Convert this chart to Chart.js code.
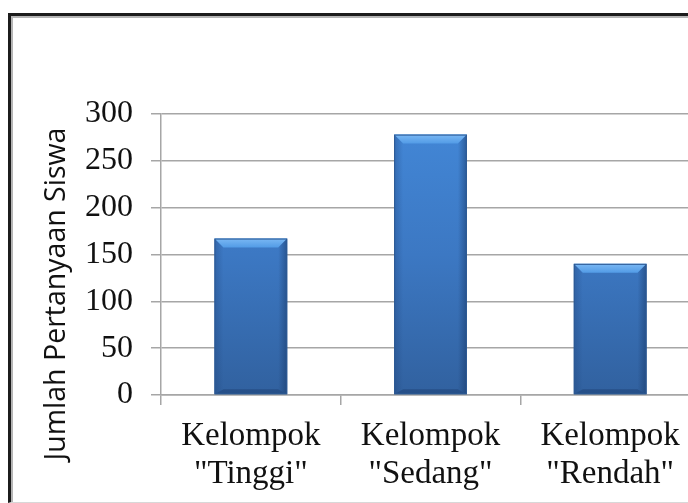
<!DOCTYPE html>
<html>
<head>
<meta charset="utf-8">
<script src="https://cdn.jsdelivr.net/npm/chart.js@4"></script>
<style>
  html, body { margin: 0; padding: 0; background: #fff; overflow: hidden; }
  #wrap { position: relative; width: 688px; height: 503px; overflow: hidden; }
  #frame {
    position: absolute; left: 8px; top: 13px; width: 720px; height: 486px;
    border-left: 3px solid #1c1c1c; border-top: 3px solid #1c1c1c;
    border-bottom: 1px solid #d8d8d8;
    box-shadow: inset 2px 2px 0 #b5b5b5;
  }
  #chart { position: absolute; left: 0; top: 0; }
</style>
</head>
<body>
<div id="wrap">
  <div id="frame"></div>
  <canvas id="chart" width="702" height="503"></canvas>
</div>
<script>
var categories = [['Kelompok', '"Tinggi"'], ['Kelompok', '"Sedang"'], ['Kelompok', '"Rendah"']];
var values = [167, 278, 140];
var yTicks = [0, 50, 100, 150, 200, 250, 300];
var yTitle = 'Jumlah Pertanyaan Siswa';

var gridColor = '#a6a6a6';

// vertical gradient for the bars
function barFill(context) {
    var chart = context.chart;
    var area = chart.chartArea;
    if (!area) return '#3d78c4';
    var g = chart.ctx.createLinearGradient(0, area.top, 0, area.bottom);
    g.addColorStop(0, '#4388d8');
    g.addColorStop(0.5, '#3c78c3');
    g.addColorStop(1, '#31619f');
    return g;
}

// soft bevel like the office chart
var bevelPlugin = {
    id: 'bevel',
    afterDatasetsDraw: function(chart) {
        var ctx = chart.ctx;
        var meta = chart.getDatasetMeta(0);
        meta.data.forEach(function(bar) {
            var p = bar.getProps(['x', 'y', 'base', 'width']);
            var l = p.x - p.width / 2, r = p.x + p.width / 2;
            var t = p.y, b = p.base, d = 9;
            ctx.save();
            // top bevel
            var tg = ctx.createLinearGradient(0, t, 0, t + d);
            tg.addColorStop(0, '#7ab8f4');
            tg.addColorStop(1, '#529be6');
            ctx.fillStyle = tg;
            ctx.beginPath();
            ctx.moveTo(l, t); ctx.lineTo(r, t); ctx.lineTo(r - d, t + d); ctx.lineTo(l + d, t + d);
            ctx.closePath(); ctx.fill();
            // left side
            var lg = ctx.createLinearGradient(l, 0, l + d, 0);
            lg.addColorStop(0, 'rgba(30,65,120,0.35)');
            lg.addColorStop(1, 'rgba(30,65,120,0)');
            ctx.fillStyle = lg;
            ctx.beginPath();
            ctx.moveTo(l, t); ctx.lineTo(l + d, t + d); ctx.lineTo(l + d, b - 5); ctx.lineTo(l, b);
            ctx.closePath(); ctx.fill();
            // right side
            var rg = ctx.createLinearGradient(r, 0, r - d, 0);
            rg.addColorStop(0, 'rgba(20,50,95,0.5)');
            rg.addColorStop(1, 'rgba(20,50,95,0)');
            ctx.fillStyle = rg;
            ctx.beginPath();
            ctx.moveTo(r, t); ctx.lineTo(r - d, t + d); ctx.lineTo(r - d, b - 5); ctx.lineTo(r, b);
            ctx.closePath(); ctx.fill();
            // bottom
            ctx.fillStyle = 'rgba(20,50,95,0.35)';
            ctx.beginPath();
            ctx.moveTo(l, b); ctx.lineTo(l + d, b - 5); ctx.lineTo(r - d, b - 5); ctx.lineTo(r, b);
            ctx.closePath(); ctx.fill();
            ctx.strokeStyle = '#2d5a94';
            ctx.lineWidth = 1;
            ctx.strokeRect(l + 0.5, t + 0.5, p.width - 1, b - t - 1);
            ctx.restore();
        });
    }
};

// rotated y title, placed like the reference
var yTitlePlugin = {
    id: 'yTitle',
    afterDraw: function(chart) {
        var ctx = chart.ctx;
        ctx.save();
        ctx.translate(57, 294);
        ctx.rotate(-Math.PI / 2);
        ctx.font = '28.5px "Open Sans"';
        ctx.fillStyle = '#111';
        ctx.textAlign = 'center';
        ctx.textBaseline = 'middle';
        ctx.fillText(yTitle, 0, 0);
        ctx.restore();
    }
};

var ctx = document.getElementById('chart').getContext('2d');
var myChart = new Chart(ctx, {
    type: 'bar',
    data: {
        labels: categories,
        datasets: [{
            label: yTitle,
            data: values,
            backgroundColor: barFill,
            borderWidth: 0,
            barPercentage: 1,
            categoryPercentage: 0.405
        }]
    },
    options: {
        responsive: false,
        animation: false,
        layout: {
            padding: { top: 114, right: 2, bottom: 0, left: 0 }
        },
        plugins: {
            legend: { display: false },
            tooltip: { enabled: false }
        },
        scales: {
            x: {
                afterFit: function(scale) { scale.height = 108; },
                grid: {
                    offset: true,
                    drawOnChartArea: false,
                    tickLength: 10,
                    color: gridColor,
                    lineWidth: 1.5
                },
                border: { color: gridColor, width: 1.5 },
                ticks: {
                    color: '#111',
                    padding: 13,
                    font: { family: '"Liberation Serif"', size: 33, lineHeight: 1.13 }
                }
            },
            y: {
                min: 0,
                max: 300,
                afterFit: function(scale) { scale.width = 161; },
                afterBuildTicks: function(scale) {
                    scale.ticks = yTicks.map(function(v) { return { value: v }; });
                },
                grid: {
                    tickLength: 10,
                    color: gridColor,
                    lineWidth: 1.5
                },
                border: { color: gridColor, width: 1.5 },
                ticks: {
                    color: '#111',
                    padding: 18,
                    font: { family: '"Liberation Serif"', size: 32 }
                }
            }
        }
    },
    plugins: [bevelPlugin, yTitlePlugin]
});
</script>
</body>
</html>
